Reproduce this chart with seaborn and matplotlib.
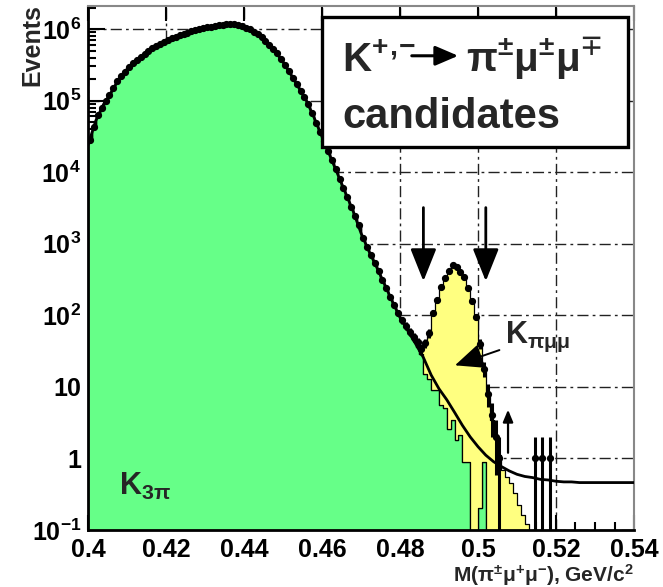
import numpy as np
import pandas as pd
import matplotlib
matplotlib.use("Agg")
import matplotlib.pyplot as plt
from matplotlib.patches import Rectangle
from matplotlib.ticker import FixedLocator, FixedFormatter, MultipleLocator, LogLocator, NullFormatter
import seaborn as sns

# ---------------------------------------------------------------------------
# Invariant-mass spectrum of K -> pi mu mu candidates, 1 MeV/c^2 bins
# ---------------------------------------------------------------------------
bin_width = 0.001
mass_min, mass_max = 0.400, 0.540

# K -> 3pi simulation (bins starting at 0.400)
k3pi_mc = [
    28200, 42700, 63100, 79400, 97700, 120000, 148000, 186000, 219000, 251000,
    295000, 339000, 372000, 407000, 447000, 490000, 537000, 575000, 617000, 661000,
    708000, 741000, 776000, 813000, 851000, 891000, 933000, 977000, 1000000, 1023000,
    1059000, 1084000, 1109000, 1135000, 1153000, 1169000, 1175000, 1164000, 1135000, 1096000,
    1047000, 989000, 912000, 841000, 776000, 692000, 603000, 525000, 457000, 380000,
    316000, 257000, 209000, 170000, 138000, 112000, 89100, 66100, 49000, 36300,
    26900, 20000, 14800, 11000, 8130, 6030, 4470, 3310, 2450, 1820,
    1200, 891, 692, 537, 417, 316, 240, 182, 138, 105,
    83, 68, 55, 45, 36, 29, 15, 13, 9, 9,
    5.5, 5, 2.6, 3.5, 1.8, 2.1, 0.9, 0.9, 0.05, 0.05,
    0.2, 0.9,
]

# K -> pi mu mu simulation (bins starting at 0.478)
kpimumu_start = 0.478
kpimumu_mc = [
    2, 2, 3, 3, 4, 5, 6, 7, 25, 43,
    95, 150, 240, 320, 410, 476, 458, 387, 329, 228,
    150, 88, 38, 17, 7.5, 3.5, 2, 1.1, 0.7, 0.55,
    0.45, 0.33, 0.22, 0.16, 0.12,
]

# observed candidates (bins starting at 0.400)
data_counts = [
    28200, 42700, 63100, 79400, 97700, 120000, 148000, 186000, 219000, 251000,
    295000, 339000, 372000, 407000, 447000, 490000, 537000, 575000, 617000, 661000,
    708000, 741000, 776000, 813000, 851000, 891000, 933000, 977000, 1000000, 1023000,
    1059000, 1084000, 1109000, 1135000, 1153000, 1169000, 1175000, 1164000, 1135000, 1096000,
    1047000, 989000, 912000, 841000, 776000, 692000, 603000, 525000, 457000, 380000,
    316000, 257000, 209000, 170000, 138000, 112000, 89100, 66100, 49000, 36300,
    26900, 20000, 14800, 11000, 8130, 6030, 4470, 3310, 2450, 1820,
    1200, 891, 692, 537, 417, 316, 240, 182, 140, 107,
    86, 71, 59, 50, 42, 34, 41, 56, 107, 162,
    251, 330, 420, 500, 470, 400, 340, 240, 160, 95,
    40, 18, 8, 4, 2, 1, 0, 0, 0, 0,
    0, 0, 0, 0, 1, 0, 1, 0, 1, 0,
]

# smooth K -> 3pi fit, sampled every 2 MeV/c^2 from 0.400 to 0.540
fit_values = [
    24000, 52500, 89100, 132000, 204000, 275000, 355000, 427000, 513000, 603000,
    692000, 759000, 832000, 912000, 989000, 1047000, 1096000, 1143000, 1175000, 1148000,
    1072000, 944000, 804000, 646000, 490000, 347000, 232000, 153000, 100000, 57500,
    31300, 17200, 9440, 5190, 2850, 1410, 794, 473, 275, 158,
    93, 61, 40, 25.7, 14.6, 9.4, 6.6, 4.4, 2.9, 2.0,
    1.46, 1.11, 0.90, 0.77, 0.67, 0.60, 0.56, 0.54, 0.51, 0.50,
    0.48, 0.47, 0.47, 0.46, 0.46, 0.46, 0.46, 0.46, 0.46, 0.46,
    0.46,
]

signal_window = [0.486, 0.502]

y_ticks = [0.1, 1, 10, 1e2, 1e3, 1e4, 1e5, 1e6]
y_tick_labels = ["10$^{-1}$", "1", "10", "10$^{2}$", "10$^{3}$", "10$^{4}$", "10$^{5}$", "10$^{6}$"]
x_ticks = [0.40, 0.42, 0.44, 0.46, 0.48, 0.50, 0.52, 0.54]
x_tick_labels = ["0.4", "0.42", "0.44", "0.46", "0.48", "0.5", "0.52", "0.54"]

green = "#66ff88"
yellow = "#ffff80"

# ---------------------------------------------------------------------------
sns.set_style("ticks")
plt.rcParams.update({
    "font.family": ["Liberation Sans", "DejaVu Sans"],
    "font.weight": "bold",
    "mathtext.fontset": "custom",
    "mathtext.default": "regular",
    "mathtext.rm": "Liberation Sans:bold",
    "mathtext.it": "Liberation Sans:bold",
    "mathtext.bf": "Liberation Sans:bold",
    "axes.unicode_minus": True,
})

edges = [round(mass_min + i * bin_width, 4)
         for i in range(int(round((mass_max - mass_min) / bin_width)) + 1)]
k3pi_centres = mass_min + bin_width * (np.arange(len(k3pi_mc)) + 0.5)
sig_centres = kpimumu_start + bin_width * (np.arange(len(kpimumu_mc)) + 0.5)

mc = pd.concat([
    pd.DataFrame({"mass": k3pi_centres, "events": k3pi_mc, "sample": "K3pi"}),
    pd.DataFrame({"mass": sig_centres, "events": kpimumu_mc, "sample": "Kpimumu"}),
], ignore_index=True)

fig = plt.figure(figsize=(6.63, 5.87), dpi=100)
ax = fig.add_axes([88 / 663, 1 - 530 / 587, 546 / 663, 524 / 587])
ax.set_yscale("log")

sns.histplot(
    data=mc, x="mass", weights="events", hue="sample",
    hue_order=["Kpimumu", "K3pi"], multiple="stack", bins=edges,
    element="step", palette={"K3pi": green, "Kpimumu": yellow},
    alpha=1, edgecolor="black", linewidth=0.9, legend=False, ax=ax, zorder=2,
)

# fitted K3pi shape
fit_mass = np.linspace(mass_min, mass_max, len(fit_values))
sns.lineplot(x=fit_mass, y=fit_values, color="black", linewidth=2.0, ax=ax, zorder=4)

# data points with Poisson errors
data_counts = np.asarray(data_counts, dtype=float)
data_centres = mass_min + bin_width * (np.arange(len(data_counts)) + 0.5)
has_events = data_counts > 0
n = data_counts[has_events]
err = np.sqrt(n)
err_lo = np.minimum(err, n * 0.9999)
ax.errorbar(
    data_centres[has_events], n, xerr=bin_width / 2, yerr=[err_lo, err],
    fmt="o", ms=4.2, color="black", ecolor="black", elinewidth=2.2,
    capsize=0, zorder=5,
)

# signal-region arrows
for m in signal_window:
    ax.annotate(
        "", xy=(m, 300), xytext=(m, 3200),
        arrowprops=dict(arrowstyle="-|>,head_length=0.8,head_width=0.32",
                        mutation_scale=25, lw=2, color="black",
                        shrinkA=0, shrinkB=0),
        zorder=6,
    )
ax.annotate(
    "", xy=(0.5077, 4.8), xytext=(0.5077, 1.2),
    arrowprops=dict(arrowstyle="-|>,head_length=0.6,head_width=0.25",
                    mutation_scale=12, lw=1.6, color="black",
                    shrinkA=0, shrinkB=0),
    zorder=6,
)

# component labels
ax.annotate(
    "K$_{\\pi\\mu\\mu}$", xy=(0.4941, 20), xytext=(0.5070, 50),
    fontsize=22, ha="left", va="center",
    arrowprops=dict(arrowstyle="-|>,head_length=0.8,head_width=0.35",
                    mutation_scale=22, lw=1.4, color="black",
                    shrinkA=2, shrinkB=0),
    zorder=7,
)
ax.text(0.057, 0.067, "K$_{3\\pi}$", transform=ax.transAxes, fontsize=22,
        ha="left", va="baseline", zorder=7)

# title box
box = Rectangle((0.4286, 0.731), 0.5604, 0.248, transform=ax.transAxes,
                facecolor="white", edgecolor="black", linewidth=2.4, zorder=8)
ax.add_patch(box)
ax.text(0.465, 0.874, "K$^{+}$$^{,}$$^{-}$",
        transform=ax.transAxes, fontsize=29, ha="left", va="baseline", zorder=9)
ax.annotate("", xy=(0.678, 0.905), xytext=(0.593, 0.905),
            xycoords=ax.transAxes, textcoords=ax.transAxes,
            arrowprops=dict(arrowstyle="-|>,head_length=0.7,head_width=0.3",
                            mutation_scale=20, lw=2.2, color="black",
                            shrinkA=0, shrinkB=0),
            zorder=9)
ax.text(0.692, 0.874, "π$^{\\pm}$μ$^{\\pm}$μ$^{\\mp}$",
        transform=ax.transAxes, fontsize=29, ha="left", va="baseline", zorder=9)
ax.text(0.465, 0.767, "candidates", transform=ax.transAxes, fontsize=30,
        ha="left", va="baseline", zorder=9)

# axes styling
ax.set_xlim(mass_min, mass_max)
ax.set_ylim(0.1, 2.1e6)
ax.xaxis.set_major_locator(FixedLocator(x_ticks))
ax.xaxis.set_major_formatter(FixedFormatter(x_tick_labels))
ax.xaxis.set_minor_locator(MultipleLocator(0.005))
ax.yaxis.set_major_locator(FixedLocator(y_ticks))
ax.yaxis.set_major_formatter(FixedFormatter(y_tick_labels))
ax.yaxis.set_minor_locator(LogLocator(base=10, subs=np.arange(2, 10)))
ax.yaxis.set_minor_formatter(NullFormatter())
ax.tick_params(which="both", direction="in", colors="black", labelsize=18,
               width=1.5)
ax.tick_params(axis="x", which="major", length=11, top=True, pad=6)
ax.tick_params(axis="x", which="minor", length=6, top=False)
ax.tick_params(axis="y", which="major", length=12, right=False, pad=5)
ax.tick_params(axis="y", which="minor", length=6, right=False)
for lab in ax.get_xticklabels() + ax.get_yticklabels():
    lab.set_fontweight("bold")

ax.grid(True, which="major", color="#222222", linewidth=1.0,
        linestyle=(0, (8, 3, 2, 3)))
ax.set_axisbelow(True)
for side in ("left", "bottom"):
    ax.spines[side].set_linewidth(2)
    ax.spines[side].set_color("black")
for side in ("top", "right"):
    ax.spines[side].set_visible(True)
    ax.spines[side].set_linewidth(1.5)
    ax.spines[side].set_color("#888888")
ax.set_xlabel("")
ax.set_ylabel("")

fig.text(32 / 663, 1 - 4 / 587, "Events", rotation=90, ha="center", va="top",
         fontsize=18)
fig.text(634 / 663, 1 - 582 / 587, "M(π$^{\\pm}$μ$^{+}$μ$^{-}$), GeV/c$^{2}$",
         ha="right", va="baseline", fontsize=15)

fig.savefig("out.png", dpi=100, facecolor="white")
